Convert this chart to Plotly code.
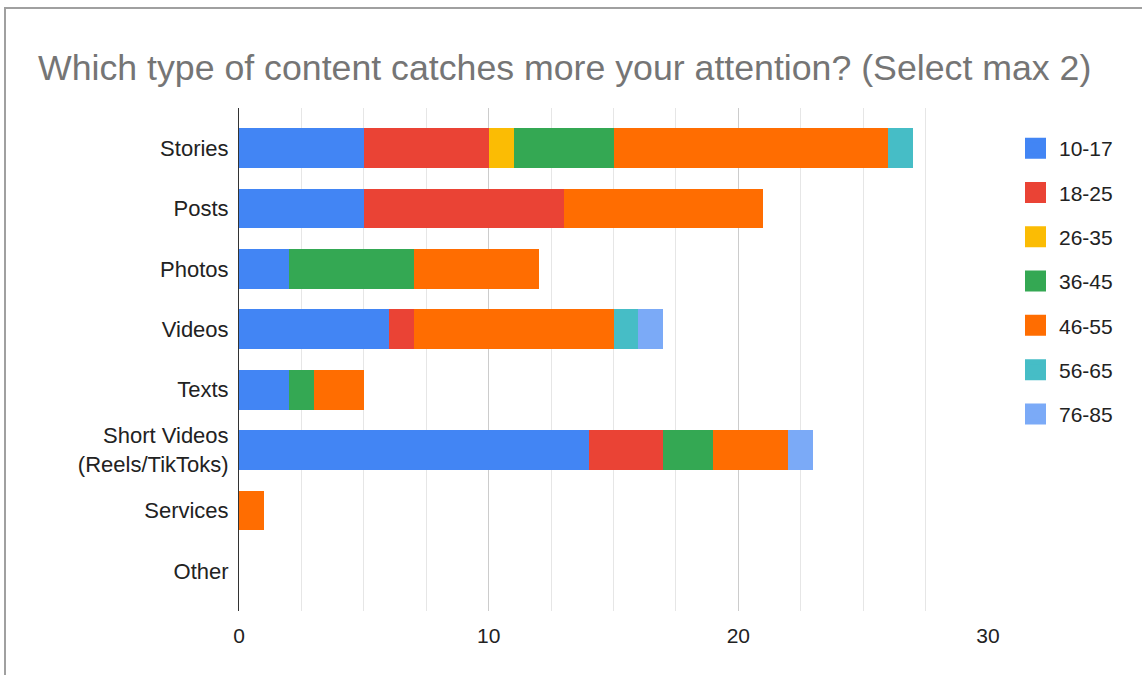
import plotly.graph_objects as go

# Content types (top to bottom) and respondent counts per age group
categories = ["Stories", "Posts", "Photos", "Videos", "Texts",
              "Short Videos<br>(Reels/TikToks)", "Services", "Other"]
age_groups = ["10-17", "18-25", "26-35", "36-45", "46-55", "56-65", "76-85"]

age_10_17 = [5, 5, 2, 6, 2, 14, 0, 0]
age_18_25 = [5, 8, 0, 1, 0, 3, 0, 0]
age_26_35 = [1, 0, 0, 0, 0, 0, 0, 0]
age_36_45 = [4, 0, 5, 0, 1, 2, 0, 0]
age_46_55 = [11, 8, 5, 8, 2, 3, 1, 0]
age_56_65 = [1, 0, 0, 1, 0, 0, 0, 0]
age_76_85 = [0, 0, 0, 1, 0, 1, 0, 0]

series = [age_10_17, age_18_25, age_26_35, age_36_45, age_46_55, age_56_65, age_76_85]
colors = ["#4285F4", "#EA4335", "#FBBC04", "#34A853", "#FF6D01", "#46BDC6", "#7BAAF7"]

FONT = "Arial, Liberation Sans, sans-serif"

fig = go.Figure()
for name, vals, col in zip(age_groups, series, colors):
    fig.add_trace(go.Bar(
        y=categories, x=vals, name=name, orientation="h",
        marker=dict(color=col, line=dict(width=0)),
        showlegend=False, hoverinfo="skip",
    ))
    # legend swatch
    fig.add_trace(go.Scatter(
        x=[None], y=[None], mode="markers", name=name,
        marker=dict(symbol="square", size=16, color=col, line=dict(color=col, width=5)),
        legendgroup=name, showlegend=True, hoverinfo="skip",
    ))

W, H = 1142, 675
L, R, T, B = 239, 988, 108, 611
pw, ph = R - L, B - T

fig.update_layout(
    width=W, height=H,
    margin=dict(l=L, r=W - R, t=T, b=H - B),
    barmode="stack", bargap=0.34,
    paper_bgcolor="white", plot_bgcolor="white",
    font=dict(family=FONT, size=21, color="#222222"),
    title=dict(
        text="Which type of content catches more your attention? (Select max 2)",
        font=dict(family=FONT, size=35.7, color="#757575"),
        xref="container", yref="container",
        x=38 / W, xanchor="left", y=1 - 68 / H, yanchor="middle",
    ),
    xaxis=dict(
        range=[0, 30], dtick=10, tick0=0,
        showgrid=True, gridcolor="#cccccc", gridwidth=1,
        minor=dict(dtick=2.5, tick0=0, showgrid=True, gridcolor="#e6e6e6", gridwidth=1),
        zeroline=False, showline=False,
        ticks="outside", ticklen=6, tickcolor="rgba(0,0,0,0)",
        tickfont=dict(family=FONT, size=21, color="#222222"),
    ),
    yaxis=dict(
        type="category", categoryorder="array", categoryarray=categories,
        range=[7.665, -0.665],
        showgrid=False, zeroline=False,
        showline=True, linecolor="#333333", linewidth=1,
        ticks="outside", ticklen=5, tickcolor="rgba(0,0,0,0)",
        tickfont=dict(family=FONT, size=22, color="#222222"),
    ),
    legend=dict(
        x=(1012 - L) / pw, xanchor="left",
        y=(B - 128) / ph, yanchor="top",
        font=dict(family=FONT, size=21, color="#222222"),
        tracegroupgap=14, itemsizing="trace", itemwidth=37,
        bgcolor="rgba(0,0,0,0)",
    ),
    shapes=[dict(
        type="rect", xref="paper", yref="paper",
        x0=(5 - L) / pw, x1=(W + 20 - L) / pw,
        y0=(B - (H + 20)) / ph, y1=(B - 8) / ph,
        line=dict(color="#a0a0a0", width=2), fillcolor="rgba(0,0,0,0)", layer="below",
    )],
)

fig.write_html("out.html")
